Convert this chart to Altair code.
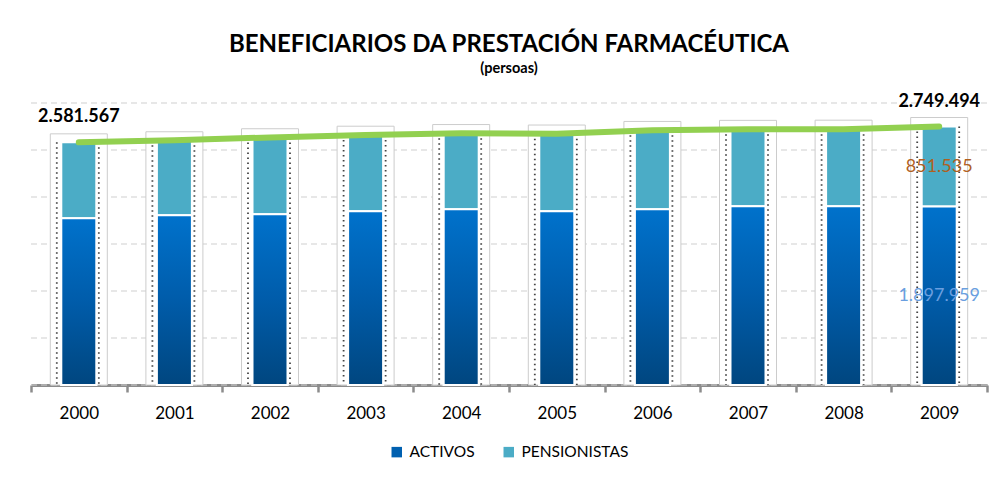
import altair as alt
import pandas as pd

years = ["2000", "2001", "2002", "2003", "2004", "2005", "2006", "2007", "2008", "2009"]
activos = [1773750, 1806000, 1817000, 1849000, 1870000, 1849000, 1870000, 1902000, 1901000, 1897959]
pensionistas = [807817, 797000, 817000, 811000, 807000, 823000, 839000, 818000, 821000, 851535]
series_names = ["ACTIVOS", "PENSIONISTAS"]
grid_values = [0, 500000, 1000000, 1500000, 2000000, 2500000, 3000000]

FONT = "Lato"


def fmt(v):
    return f"{v:,}".replace(",", ".")


totals = [a + p for a, p in zip(activos, pensionistas)]

long_rows = []
for y, a, p in zip(years, activos, pensionistas):
    long_rows.append({"year": y, "serie": series_names[0], "value": a, "ord": 0})
    long_rows.append({"year": y, "serie": series_names[1], "value": p, "ord": 1})
long_df = pd.DataFrame(long_rows)

wide_df = pd.DataFrame({
    "year": years,
    "activos": activos,
    "pens": pensionistas,
    "total": totals,
    "zero": [0] * len(years),
    "box_top": [t * 1.035 for t in totals],
})

ann_df = pd.DataFrame([
    {"year": years[0], "y": totals[0], "label": fmt(totals[0])},
    {"year": years[-1], "y": totals[-1], "label": fmt(totals[-1])},
])
pens_df = pd.DataFrame([{"year": years[-1], "y": activos[-1] + pensionistas[-1] / 2, "label": fmt(pensionistas[-1])}])
act_df = pd.DataFrame([{"year": years[-1], "y": activos[-1] / 2, "label": fmt(activos[-1])}])
grid_df = pd.DataFrame({"g": grid_values})

x_axis = alt.Axis(
    title=None,
    labelAngle=0,
    labelFont=FONT,
    labelFontSize=17,
    labelColor="#000000",
    labelPadding=13,
    domainColor="#8C8C8C",
    domainWidth=3,
    tickColor="#8C8C8C",
    tickWidth=2.5,
    tickSize=7,
    tickBand="extent",
    grid=False,
)
x_scale = alt.Scale(domain=years, paddingInner=0, paddingOuter=0, round=False)
y_scale = alt.Scale(domain=[0, 3000000], nice=False)


def X():
    return alt.X("year:N", scale=x_scale, axis=x_axis)


def Y(field, **kw):
    return alt.Y(field, scale=y_scale, axis=None, **kw)


grid = alt.Chart(grid_df).mark_rule(color="#CFCFCF", strokeDash=[6, 4], strokeWidth=1).encode(
    y=Y("g:Q")
)

boxes = alt.Chart(wide_df).mark_bar(size=57, fill="#FFFFFF", stroke="#CCCCCC", strokeWidth=1).encode(
    x=X(), y=Y("box_top:Q"), y2="zero:Q"
)

dots_left = alt.Chart(wide_df).mark_rule(
    color="#444444", strokeDash=[1.5, 3.5], strokeWidth=1.8, xOffset=-22
).encode(x=X(), y=Y("total:Q"), y2="zero:Q")
dots_right = alt.Chart(wide_df).mark_rule(
    color="#444444", strokeDash=[1.5, 3.5], strokeWidth=1.8, xOffset=20
).encode(x=X(), y=Y("total:Q"), y2="zero:Q")

stacked = alt.Chart(long_df).mark_bar(size=35, stroke="#FFFFFF", strokeWidth=2).encode(
    x=X(),
    y=Y("value:Q", stack="zero"),
    color=alt.Color(
        "serie:N",
        scale=alt.Scale(domain=series_names, range=["#0060B0", "#4BACC6"]),
        legend=alt.Legend(
            title=None,
            orient="none",
            legendX=358,
            legendY=341,
            direction="horizontal",
            symbolType="square",
            symbolSize=110,
            symbolStrokeWidth=0,
            labelFont=FONT,
            labelFontSize=15.5,
            labelColor="#000000",
            labelOffset=5,
            columnPadding=26,
            padding=0,
        ),
    ),
    order=alt.Order("ord:Q"),
)

grad_fill = {
    "gradient": "linear",
    "x1": 0, "y1": 0, "x2": 0, "y2": 1,
    "stops": [
        {"offset": 0, "color": "#0072CC"},
        {"offset": 0.5, "color": "#005CAA"},
        {"offset": 1, "color": "#00467F"},
    ],
}
grad = alt.Chart(wide_df).mark_bar(size=35, stroke="#FFFFFF", strokeWidth=2, fill=grad_fill).encode(
    x=X(), y=Y("activos:Q"), y2="zero:Q"
)

line = alt.Chart(wide_df).mark_line(color="#92D050", strokeWidth=6, strokeCap="round").encode(
    x=X(), y=Y("total:Q")
)

ann = alt.Chart(ann_df).mark_text(
    font=FONT, fontSize=18, fontWeight="bold", color="#000000", dy=-25
).encode(x=X(), y=Y("y:Q"), text="label:N")

pens_txt = alt.Chart(pens_df).mark_text(font=FONT, fontSize=18, color="#B0601F").encode(
    x=X(), y=Y("y:Q"), text="label:N"
)
act_txt = alt.Chart(act_df).mark_text(font=FONT, fontSize=18, color="#6A9FE0").encode(
    x=X(), y=Y("y:Q"), text="label:N"
)

chart = alt.layer(
    grid, boxes, dots_left, dots_right, stacked, grad, line, ann, pens_txt, act_txt
).properties(
    width=956,
    height=282,
    autosize=alt.AutoSizeParams(type="none"),
    padding={"left": 23, "top": 95, "right": 2, "bottom": 90},
    title=alt.Title(
        "BENEFICIARIOS DA PRESTACIÓN FARMACÉUTICA",
        subtitle="(persoas)",
        font=FONT,
        fontSize=24,
        fontWeight="bold",
        color="#000000",
        subtitleFont=FONT,
        subtitleFontSize=14.5,
        subtitleFontWeight="bold",
        subtitleColor="#000000",
        subtitlePadding=5,
        anchor="middle",
        offset=17,
    ),
).configure_view(stroke=None)

chart.save("out.html", embed_options={"renderer": "svg", "actions": False})
